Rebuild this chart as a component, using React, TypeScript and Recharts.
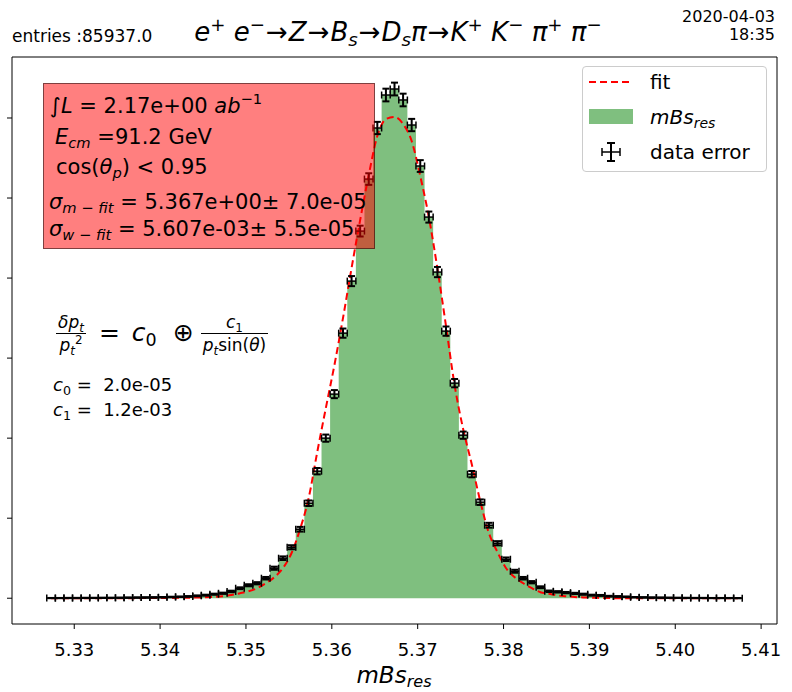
import React from "react";
import {
  ComposedChart,
  Area,
  Line,
  Scatter,
  ErrorBar,
  XAxis,
  YAxis,
  ReferenceArea,
} from "recharts";

// bin centres of the mBs_res histogram
const binCenters = [
  5.3273, 5.3283, 5.3293, 5.3303, 5.3313, 5.3323, 5.3333, 5.3343, 5.3353, 5.3363,
  5.3373, 5.3383, 5.3393, 5.3403, 5.3413, 5.3423, 5.3433, 5.3443, 5.3453, 5.3463,
  5.3473, 5.3483, 5.3493, 5.3503, 5.3513, 5.3523, 5.3533, 5.3543, 5.3553, 5.3563,
  5.3573, 5.3583, 5.3593, 5.3603, 5.3613, 5.3623, 5.3633, 5.3643, 5.3653, 5.3663,
  5.3673, 5.3683, 5.3693, 5.3703, 5.3713, 5.3723, 5.3733, 5.3743, 5.3753, 5.3763,
  5.3773, 5.3783, 5.3793, 5.3803, 5.3813, 5.3823, 5.3833, 5.3843, 5.3853, 5.3863,
  5.3873, 5.3883, 5.3893, 5.3903, 5.3913, 5.3923, 5.3933, 5.3943, 5.3953, 5.3963,
  5.3973, 5.3983, 5.3993, 5.4003, 5.4013, 5.4023, 5.4033, 5.4043, 5.4053, 5.4063,
  5.4073,
];

// entries per bin (1 y tick = 1000)
const counts = [
  2, 2, 3, 3, 4, 4, 5, 5, 6, 7,
  8, 9, 10, 12, 15, 18, 22, 30, 38, 50,
  62, 85, 125, 162, 187, 250, 375, 500, 637, 862,
  1187, 1587, 2000, 2550, 3312, 3962, 4587, 5237, 5875, 6287,
  6362, 6225, 5912, 5400, 4762, 4075, 3337, 2687, 2037, 1550,
  1200, 912, 687, 487, 337, 250, 200, 137, 87, 80,
  70, 60, 50, 38, 35, 25, 22, 18, 12, 10,
  8, 7, 6, 5, 4, 3, 3, 2, 2, 2,
  1,
];

// statistical error per bin
const countErr = [
  1.4, 1.4, 1.7, 1.7, 2, 2, 2.2, 2.2, 2.4, 2.6,
  2.8, 3, 3.2, 3.5, 3.9, 4.2, 4.7, 5.5, 6.2, 7.1,
  7.9, 9.2, 11.2, 12.7, 13.7, 15.8, 19.4, 22.4, 25.2, 29.4,
  34.5, 39.8, 44.7, 50.5, 57.5, 62.9, 67.7, 72.4, 76.6, 79.3,
  79.8, 78.9, 76.9, 73.5, 69, 63.8, 57.8, 51.8, 45.1, 39.4,
  34.6, 30.2, 26.2, 22.1, 18.4, 15.8, 14.1, 11.7, 9.3, 8.9,
  8.4, 7.7, 7.1, 6.2, 5.9, 5, 4.7, 4.2, 3.5, 3.2,
  2.8, 2.6, 2.4, 2.2, 2, 1.7, 1.7, 1.4, 1.4, 1.4,
  1,
];

// fitted curve evaluated at the bin centres
const fitValues = [
  0, 0, 0, 0, 0, 0, 0, 0, 1, 1,
  1, 2, 2, 3, 4, 5, 7, 9, 12, 17,
  25, 40, 62, 87, 125, 187, 262, 375, 562, 862,
  1250, 1825, 2375, 2912, 3500, 4125, 4725, 5287, 5775, 5987,
  6012, 5925, 5712, 5275, 4762, 4118, 3400, 2662, 2112, 1675,
  1206, 812, 575, 375, 262, 187, 125, 75, 56, 35,
  25, 15, 10, 6, 4, 2, 1, 1, 0, 0,
  0, 0, 0, 0, 0, 0, 0, 0, 0, 0,
  0,
];

const halfBin = 0.0005;
const xTicks = [5.33, 5.34, 5.35, 5.36, 5.37, 5.38, 5.39, 5.4, 5.41];
const yTicks = [0, 1000, 2000, 3000, 4000, 5000, 6000];
const xDomain = [5.32275, 5.41185];
const yDomain = [-322, 6762];

const data = binCenters.map((x, i) => ({
  x,
  count: counts[i],
  ey: countErr[i],
  ex: halfBin,
  fit: fitValues[i],
}));

const FONT = "'DejaVu Sans', sans-serif";

const I = ({ children }: { children: React.ReactNode }) => (
  <span style={{ fontStyle: "italic" }}>{children}</span>
);
const Sub = ({ children }: { children: React.ReactNode }) => (
  <span style={{ fontSize: "70%", verticalAlign: "-0.3em", lineHeight: 0 }}>{children}</span>
);
const Sup = ({ children }: { children: React.ReactNode }) => (
  <span style={{ fontSize: "70%", verticalAlign: "0.55em", lineHeight: 0 }}>{children}</span>
);

function Txt({
  x,
  y,
  size,
  align = "left",
  children,
}: {
  x: number;
  y: number;
  size: number;
  align?: "left" | "right" | "center";
  children: React.ReactNode;
}) {
  const style: React.CSSProperties = {
    position: "absolute",
    top: y,
    fontSize: size,
    lineHeight: 1,
    whiteSpace: "nowrap",
    color: "#000",
  };
  if (align === "left") {
    style.left = x;
    style.transform = "translateY(-50%)";
  } else if (align === "right") {
    style.right = 792 - x;
    style.transform = "translateY(-50%)";
  } else {
    style.left = x;
    style.transform = "translate(-50%, -50%)";
  }
  return <div style={style}>{children}</div>;
}

const Arrow = () => <span style={{ margin: "0 1px" }}>→</span>;

function Frac({ top, bottom, size }: { top: React.ReactNode; bottom: React.ReactNode; size: number }) {
  return (
    <span
      style={{
        display: "inline-flex",
        flexDirection: "column",
        alignItems: "center",
        fontSize: size,
        verticalAlign: "middle",
        margin: "0 3px",
      }}
    >
      <span style={{ padding: "0 2px 2px" }}>{top}</span>
      <span style={{ borderTop: "1px solid #000", padding: "3px 2px 0", alignSelf: "stretch", textAlign: "center" }}>
        {bottom}
      </span>
    </span>
  );
}

function LegendBox() {
  return (
    <div
      style={{
        position: "absolute",
        left: 582,
        top: 66,
        width: 185,
        height: 106,
        boxSizing: "border-box",
        border: "1px solid #cccccc",
        borderRadius: 4,
        background: "rgba(255,255,255,0.8)",
      }}
    >
      <svg width={185} height={106} style={{ position: "absolute", left: 0, top: 0 }}>
        <line x1={6} x2={50} y1={15} y2={15} stroke="#ff0000" strokeWidth={2} strokeDasharray="7 4" />
        <rect x={6} y={42} width={44} height={15} fill="#7fbf7f" />
        <line x1={28} x2={28} y1={76} y2={94} stroke="#000" strokeWidth={2} />
        <line x1={24} x2={32} y1={76} y2={76} stroke="#000" strokeWidth={2} />
        <line x1={24} x2={32} y1={94} y2={94} stroke="#000" strokeWidth={2} />
        <line x1={19} x2={37} y1={85} y2={85} stroke="#000" strokeWidth={1.5} />
        <line x1={19} x2={19} y1={81} y2={89} stroke="#000" strokeWidth={1.5} />
        <line x1={37} x2={37} y1={81} y2={89} stroke="#000" strokeWidth={1.5} />
      </svg>
      <Txt x={67} y={15} size={20}>fit</Txt>
      <Txt x={67} y={50} size={20}>
        <I>mBs</I>
        <Sub>
          <I>res</I>
        </Sub>
      </Txt>
      <Txt x={67} y={85} size={20}>data error</Txt>
    </div>
  );
}

export default function App() {
  return (
    <div
      style={{
        position: "absolute",
        left: 0,
        top: 0,
        width: 792,
        height: 692,
        background: "#fff",
        fontFamily: FONT,
      }}
    >
      <ComposedChart
        width={792}
        height={692}
        data={data}
        margin={{ top: 57, right: 15, bottom: 0, left: 0 }}
      >
        <XAxis
          dataKey="x"
          type="number"
          domain={xDomain}
          allowDataOverflow
          ticks={xTicks}
          tickFormatter={(v: number) => v.toFixed(2)}
          axisLine={false}
          tickLine={{ stroke: "#000" }}
          tickSize={5}
          tickMargin={14}
          height={68}
          tick={{ fontSize: 18, fill: "#000", fontFamily: FONT }}
        />
        <YAxis
          type="number"
          domain={yDomain}
          allowDataOverflow
          ticks={yTicks}
          tickFormatter={() => ""}
          axisLine={false}
          tickLine={{ stroke: "#000" }}
          tickSize={5}
          width={12}
        />
        <Area
          dataKey="count"
          type="step"
          fill="#008000"
          fillOpacity={0.5}
          stroke="none"
          baseValue={0}
          isAnimationActive={false}
        />
        <Line
          dataKey="fit"
          type="monotone"
          stroke="#ff0000"
          strokeWidth={2}
          strokeDasharray="7 4"
          dot={false}
          isAnimationActive={false}
        />
        <Scatter dataKey="count" shape={() => <g />} isAnimationActive={false}>
          <ErrorBar dataKey="ey" direction="y" width={3.5} stroke="#000" strokeWidth={2} />
          <ErrorBar dataKey="ex" direction="x" width={3.5} stroke="#000" strokeWidth={1.5} />
        </Scatter>
        <ReferenceArea
          x1={xDomain[0]}
          x2={xDomain[1]}
          y1={yDomain[0]}
          y2={yDomain[1]}
          fill="none"
          fillOpacity={0}
          stroke="#000"
          strokeWidth={1}
          ifOverflow="visible"
        />
      </ComposedChart>

      {/* header */}
      <Txt x={12} y={36} size={17}>entries :85937.0</Txt>
      <Txt x={398} y={32} size={26} align="center">
        <I>e</I>
        <Sup>+</Sup> <I>e</I>
        <Sup>−</Sup>
        <Arrow />
        <I>Z</I>
        <Arrow />
        <I>B</I>
        <Sub>
          <I>s</I>
        </Sub>
        <Arrow />
        <I>D</I>
        <Sub>
          <I>s</I>
        </Sub>
        <I>π</I>
        <Arrow />
        <I>K</I>
        <Sup>+</Sup> <I>K</I>
        <Sup>−</Sup> <I>π</I>
        <Sup>+</Sup> <I>π</I>
        <Sup>−</Sup>
      </Txt>
      <Txt x={775} y={17} size={16} align="right">2020-04-03</Txt>
      <Txt x={775} y={35} size={16} align="right">18:35</Txt>

      <LegendBox />

      {/* red information box */}
      <div
        style={{
          position: "absolute",
          left: 43,
          top: 83,
          width: 332,
          height: 166,
          boxSizing: "border-box",
          background: "rgba(255,0,0,0.5)",
          border: "1px solid rgba(0,0,0,0.5)",
        }}
      />
      <Txt x={50} y={106} size={21}>
        ∫<I>L</I> = 2.17e+00 <I>ab</I>
        <Sup>−1</Sup>
      </Txt>
      <Txt x={55} y={137} size={21}>
        <I>E</I>
        <Sub>
          <I>cm</I>
        </Sub>{" "}
        =91.2 GeV
      </Txt>
      <Txt x={56} y={167} size={21}>
        cos(<I>θ</I>
        <Sub>
          <I>p</I>
        </Sub>
        ) &lt; 0.95
      </Txt>
      <Txt x={49} y={202} size={21}>
        <I>σ</I>
        <Sub>
          <I>m</I> − <I>fit</I>
        </Sub>{" "}
        = 5.367e+00± 7.0e-05
      </Txt>
      <Txt x={49} y={229} size={21}>
        <I>σ</I>
        <Sub>
          <I>w</I> − <I>fit</I>
        </Sub>{" "}
        = 5.607e-03± 5.5e-05
      </Txt>

      {/* resolution formula */}
      <Txt x={53} y={334} size={25}>
        <Frac
          size={17}
          top={
            <>
              <I>δp</I>
              <Sub>
                <I>t</I>
              </Sub>
            </>
          }
          bottom={
            <>
              <I>p</I>
              <Sub>
                <I>t</I>
              </Sub>
              <Sup>2</Sup>
            </>
          }
        />
        <span style={{ margin: "0 12px 0 10px" }}>=</span>
        <I>c</I>
        <Sub>0</Sub>
        <span style={{ margin: "0 4px 0 16px" }}>⊕</span>
        <Frac
          size={17}
          top={
            <>
              <I>c</I>
              <Sub>1</Sub>
            </>
          }
          bottom={
            <>
              <I>p</I>
              <Sub>
                <I>t</I>
              </Sub>
              sin(<I>θ</I>)
            </>
          }
        />
      </Txt>
      <Txt x={53} y={385} size={18}>
        <I>c</I>
        <Sub>0</Sub> = &nbsp;2.0e-05
      </Txt>
      <Txt x={53} y={410} size={18}>
        <I>c</I>
        <Sub>1</Sub> = &nbsp;1.2e-03
      </Txt>

      {/* x axis title */}
      <Txt x={394} y={675} size={23} align="center">
        <I>mBs</I>
        <Sub>
          <I>res</I>
        </Sub>
      </Txt>
    </div>
  );
}
